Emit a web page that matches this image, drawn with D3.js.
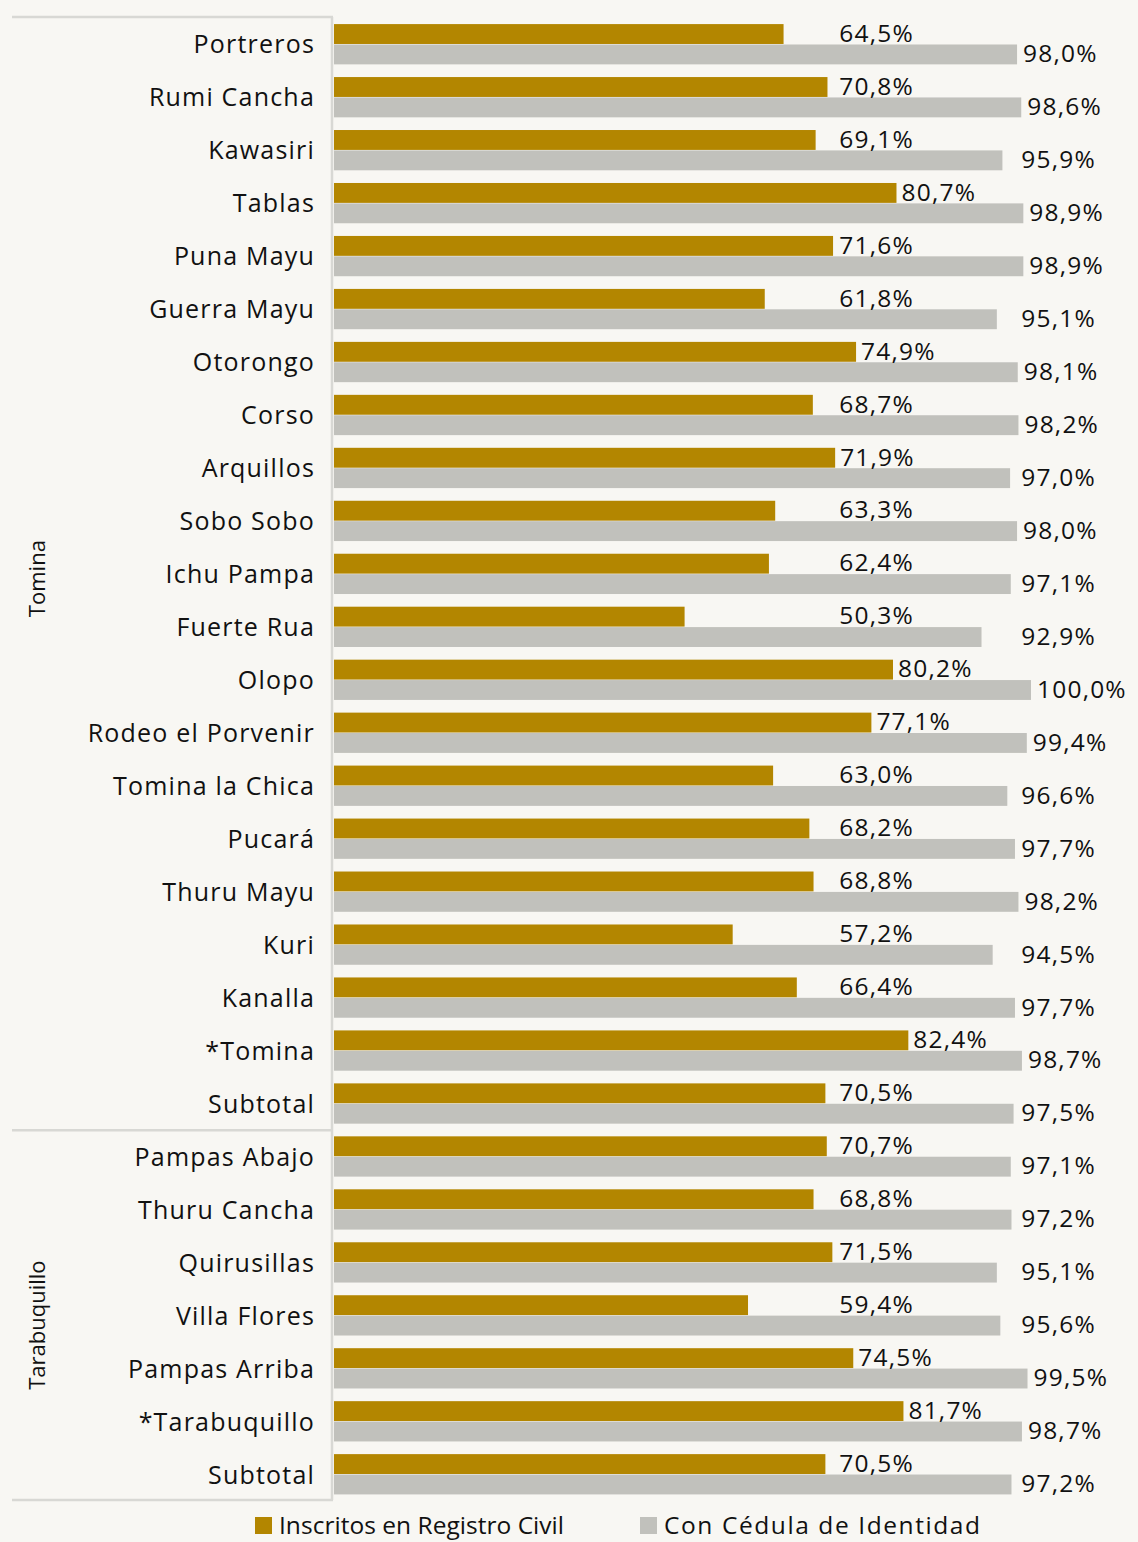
<!DOCTYPE html>
<html>
<head>
<meta charset="utf-8">
<script src="https://cdn.jsdelivr.net/npm/d3@7"></script>
<style>
  body { margin: 0; background: #f8f7f3; }
  svg { display: block; }
  text { font-family: "Open Sans", "Noto Sans", sans-serif; fill: #111; }
</style>
</head>
<body>
<div class="chart"></div>
<script>
'use strict';

// groups and their rows (top to bottom)
var groups = ['Tomina', 'Tarabuquillo'];
var tominaRows = ['Portreros', 'Rumi Cancha', 'Kawasiri', 'Tablas', 'Puna Mayu', 'Guerra Mayu',
  'Otorongo', 'Corso', 'Arquillos', 'Sobo Sobo', 'Ichu Pampa', 'Fuerte Rua', 'Olopo',
  'Rodeo el Porvenir', 'Tomina la Chica', 'Pucará', 'Thuru Mayu', 'Kuri', 'Kanalla',
  '*Tomina', 'Subtotal'];
var tarabuquilloRows = ['Pampas Abajo', 'Thuru Cancha', 'Quirusillas', 'Villa Flores',
  'Pampas Arriba', '*Tarabuquillo', 'Subtotal'];

// series values (%)
var inscritosTomina = [64.5, 70.8, 69.1, 80.7, 71.6, 61.8, 74.9, 68.7, 71.9, 63.3, 62.4, 50.3,
  80.2, 77.1, 63.0, 68.2, 68.8, 57.2, 66.4, 82.4, 70.5];
var cedulaTomina = [98.0, 98.6, 95.9, 98.9, 98.9, 95.1, 98.1, 98.2, 97.0, 98.0, 97.1, 92.9,
  100.0, 99.4, 96.6, 97.7, 98.2, 94.5, 97.7, 98.7, 97.5];
var inscritosTarabuquillo = [70.7, 68.8, 71.5, 59.4, 74.5, 81.7, 70.5];
var cedulaTarabuquillo = [97.1, 97.2, 95.1, 95.6, 99.5, 98.7, 97.2];

var seriesNames = ['Inscritos en Registro Civil', 'Con Cédula de Identidad'];
var colors = ['#b38600', '#c1c1bc'];

// build row table
var rows = [];
tominaRows.forEach(function(name, i) {
  rows.push({ group: 'Tomina', name: name, key: 'Tomina|' + name,
    values: [inscritosTomina[i], cedulaTomina[i]] });
});
tarabuquilloRows.forEach(function(name, i) {
  rows.push({ group: 'Tarabuquillo', name: name, key: 'Tarabuquillo|' + name,
    values: [inscritosTarabuquillo[i], cedulaTarabuquillo[i]] });
});

var W = 1138, H = 1542;
var plotLeft = 334, plotTop = 17, plotBottom = 1500;

var svg = d3.select('.chart').append('svg')
  .attr('width', W).attr('height', H);

svg.append('rect').attr('width', W).attr('height', H).attr('fill', '#f8f7f3');

var x = d3.scaleLinear().domain([0, 100]).range([plotLeft, 1031]);
var y = d3.scaleBand().domain(rows.map(function(d) { return d.key; }))
  .range([plotTop + 1, plotBottom + 1]).paddingInner(0.23).paddingOuter(0.115);
var ySub = d3.scaleBand().domain([0, 1]).range([0, y.bandwidth()]);

var fmt = function(v) { return d3.format('.1f')(v).replace('.', ',') + '%'; };

// bars
var row = svg.selectAll('g.row').data(rows).enter().append('g')
  .attr('class', 'row')
  .attr('transform', function(d) { return 'translate(0,' + y(d.key) + ')'; });

row.selectAll('rect').data(function(d) { return d.values; }).enter().append('rect')
  .attr('x', x(0))
  .attr('y', function(d, i) { return ySub(i); })
  .attr('width', function(d) { return x(d) - x(0); })
  .attr('height', ySub.bandwidth() - 0.5)
  .attr('fill', function(d, i) { return colors[i]; });

// value labels
row.selectAll('text.val').data(function(d) { return d.values; }).enter().append('text')
  .attr('class', 'val')
  .attr('x', function(d, i) {
    return i === 0 ? Math.max(x(d) + 5, x(72.5)) : Math.max(x(d) + 6, x(98.6));
  })
  .attr('y', function(d, i) { return ySub(i) + ySub.bandwidth() / 2 + 7.5; })
  .attr('font-size', 24.5)
  .attr('letter-spacing', 1.2)
  .text(fmt);

// category labels
svg.selectAll('text.cat').data(rows).enter().append('text')
  .attr('class', 'cat')
  .attr('x', 315)
  .attr('y', function(d) { return y(d.key) + y.bandwidth() / 2 + 9; })
  .attr('text-anchor', 'end')
  .attr('font-size', 25)
  .attr('letter-spacing', 1.2)
  .text(function(d) { return d.name; });

// group frame lines
var lineColor = '#d8d8d4';
var half = y.step() * y.paddingInner() / 2;
var groupBounds = groups.map(function(g) {
  var gr = rows.filter(function(d) { return d.group === g; });
  var first = gr[0], last = gr[gr.length - 1];
  var y0 = first === rows[0] ? plotTop : y(first.key) - half;
  var y1 = last === rows[rows.length - 1] ? plotBottom : y(last.key) + y.bandwidth() + half;
  return { group: g, y0: y0, y1: y1 };
});

svg.append('line').attr('x1', 332).attr('x2', 332).attr('y1', plotTop).attr('y2', plotBottom)
  .attr('stroke', lineColor).attr('stroke-width', 2.5);

var hLines = [plotTop].concat(groupBounds.map(function(d) { return d.y1; }));
svg.selectAll('line.h').data(hLines).enter().append('line')
  .attr('class', 'h')
  .attr('x1', 12).attr('x2', 333)
  .attr('y1', function(d) { return d; }).attr('y2', function(d) { return d; })
  .attr('stroke', lineColor).attr('stroke-width', 2.5);

// group labels (rotated)
svg.selectAll('text.grp').data(groupBounds).enter().append('text')
  .attr('class', 'grp')
  .attr('transform', function(d, i) { return 'translate(45,' + ((d.y0 + d.y1) / 2 + 5 + i * 5) + ') rotate(-90)'; })
  .attr('text-anchor', 'middle')
  .attr('font-size', 22)
  .text(function(d) { return d.group; });

// legend
var legendX = [255, 640];
var legendTextW = [285, 316];
var legend = svg.selectAll('g.legend').data(seriesNames).enter().append('g')
  .attr('class', 'legend')
  .attr('transform', function(d, i) { return 'translate(' + legendX[i] + ',1517)'; });
legend.append('rect').attr('width', 17).attr('height', 17)
  .attr('fill', function(d, i) { return colors[i]; });
legend.append('text').attr('x', 24).attr('y', 17)
  .attr('font-size', 24.5)
  .attr('textLength', function(d, i) { return legendTextW[i]; })
  .attr('lengthAdjust', 'spacing')
  .text(function(d) { return d; });
</script>
</body>
</html>
